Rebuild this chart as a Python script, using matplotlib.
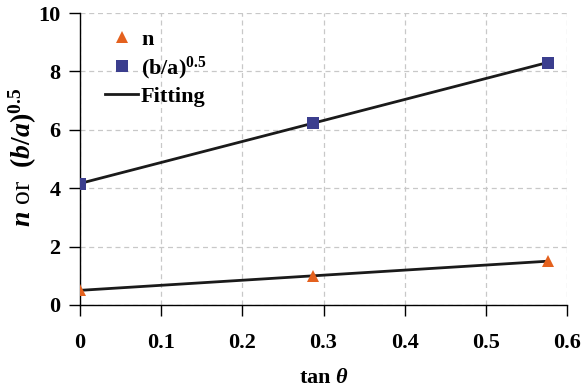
import numpy as np
import matplotlib
matplotlib.use("Agg")
import matplotlib.pyplot as plt
from matplotlib.lines import Line2D

plt.rcParams['font.family'] = ['Liberation Serif', 'DejaVu Serif']
plt.rcParams['font.weight'] = 'bold'
plt.rcParams['mathtext.fontset'] = 'custom'
plt.rcParams['mathtext.rm'] = 'Liberation Serif:bold'
plt.rcParams['mathtext.bf'] = 'Liberation Serif:bold'
plt.rcParams['mathtext.it'] = 'Liberation Serif:italic:bold'

# tan(theta) for theta = 0, 16, 30 degrees
tan_theta = [0.0, 0.287, 0.577]
n_values = [0.5, 1.0, 1.5]
ba_values = [4.15, 6.25, 8.3]

x_ticks = [0, 0.1, 0.2, 0.3, 0.4, 0.5, 0.6]
x_tick_labels = ['0', '0.1', '0.2', '0.3', '0.4', '0.5', '0.6']
y_ticks = [0, 2, 4, 6, 8, 10]

tri_color = '#E4611E'
sq_color = '#3B3E8E'

fig = plt.figure(figsize=(5.84, 3.89), dpi=100)
ax = fig.add_axes([0.137, 0.216, 0.834, 0.7505])

x = np.array(tan_theta)
for vals in (n_values, ba_values):
    k, b = np.polyfit(x, vals, 1)
    ax.plot(x, k * x + b, color='#1a1a1a', lw=2.0, zorder=2)

ax.plot(tan_theta, n_values, ls='none', marker='^', ms=9, color=tri_color,
        markeredgewidth=0, zorder=3)
ax.plot(tan_theta, ba_values, ls='none', marker='s', ms=8.5, color=sq_color,
        markeredgewidth=0, zorder=3)

ax.set_xlim(0, 0.6)
ax.set_ylim(0, 10)
ax.set_xticks(x_ticks)
ax.set_xticklabels(x_tick_labels)
ax.set_yticks(y_ticks)
ax.tick_params(direction='out', length=8, width=1.0, labelsize=16)
ax.tick_params(axis='x', pad=12)
ax.tick_params(axis='y', pad=6)
ax.grid(True, ls=(0, (4, 3)), color='#c8c8c8', lw=0.9)
ax.set_axisbelow(True)
for s in ('top', 'right'):
    ax.spines[s].set_visible(False)
for s in ('left', 'bottom'):
    ax.spines[s].set_linewidth(1.0)

ax.set_xlabel(r'tan $\theta$', fontsize=16, fontweight='bold')
ax.xaxis.set_label_coords(0.5, -0.215)
ax.set_ylabel(r'$n$ or  $(b/a)^{0.5}$', fontsize=20, fontweight='normal')
ax.yaxis.set_label_coords(-0.085, 0.505)

handles = [
    Line2D([], [], ls='none', marker='^', ms=9, color=tri_color, markeredgewidth=0),
    Line2D([], [], ls='none', marker='s', ms=8.5, color=sq_color, markeredgewidth=0),
    Line2D([], [], color='#1a1a1a', lw=2.0),
]
labels = ['n', r'(b/a)$^{0.5}$', 'Fitting']
ax.legend(handles, labels, loc='upper left', bbox_to_anchor=(0.01, 1.012),
          frameon=False, fontsize=16, handlelength=1.5, handletextpad=0.12,
          labelspacing=0.2)

fig.savefig('out.png', dpi=100)
